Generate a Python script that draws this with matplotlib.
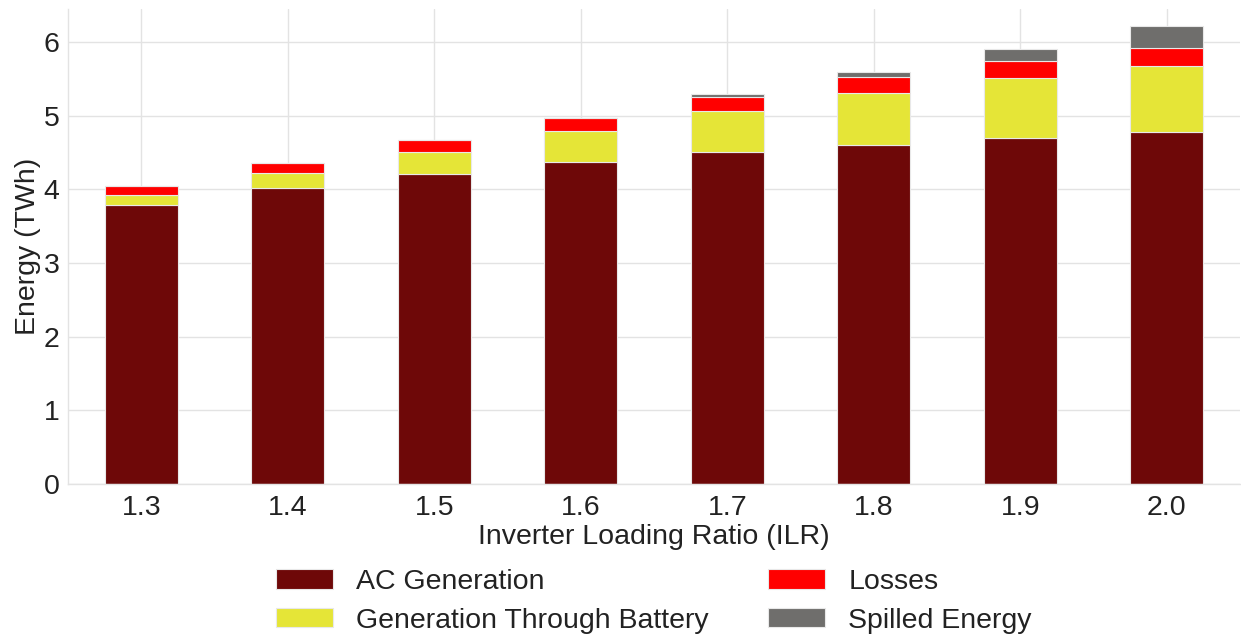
import numpy as np
import matplotlib.pyplot as plt
import seaborn as sns

ilr = ["1.3", "1.4", "1.5", "1.6", "1.7", "1.8", "1.9", "2.0"]
ac_gen = [3.79, 4.02, 4.21, 4.37, 4.51, 4.61, 4.70, 4.78]
battery_gen = [0.14, 0.20, 0.30, 0.43, 0.56, 0.70, 0.81, 0.89]
losses = [0.11, 0.14, 0.16, 0.17, 0.19, 0.22, 0.24, 0.25]
spilled = [0.00, 0.00, 0.00, 0.00, 0.03, 0.07, 0.16, 0.30]

series = [
    ("AC Generation", ac_gen, "#6e0808"),
    ("Generation Through Battery", battery_gen, "#e5e537"),
    ("Losses", losses, "#ff0000"),
    ("Spilled Energy", spilled, "#6f6e6c"),
]

sns.set_style("whitegrid")
plt.rcParams['font.family'] = ['Liberation Sans', 'DejaVu Sans']

fig = plt.figure(figsize=(12.41, 6.37), dpi=100)
ax = fig.add_axes([68/1241, 1 - 484/637, (1240 - 68)/1241, (484 - 9)/637])

x = np.arange(len(ilr))
bottom = np.zeros(len(ilr))
for name, vals, col in series:
    ax.bar(x, vals, width=0.5, bottom=bottom, color=col, label=name,
           edgecolor="#e8e8e8", linewidth=0.8)
    bottom += np.array(vals)

fs = 20.5
ax.set_xlim(-0.5, 7.5)
ax.set_ylim(0, 6.45)
ax.set_xticks(x)
ax.set_xticklabels(ilr)
ax.set_yticks(range(7))
ax.tick_params(axis='x', labelsize=fs, colors="#222222", pad=8, length=0)
ax.tick_params(axis='y', labelsize=fs, colors="#222222", pad=6, length=0)
ax.set_xlabel("Inverter Loading Ratio (ILR)", fontsize=fs, color="#222222", labelpad=2)
ax.set_ylabel("Energy (TWh)", fontsize=fs, color="#222222", labelpad=2)

ax.grid(True, color="#e3e3e3", linewidth=1)
ax.set_axisbelow(True)
for s in ["top", "right"]:
    ax.spines[s].set_visible(False)
for s in ["left", "bottom"]:
    ax.spines[s].set_color("#e3e3e3")
    ax.spines[s].set_linewidth(1)

ax.legend(loc="upper center", bbox_to_anchor=(0.5, -0.125), ncol=2, frameon=False,
          fontsize=fs, handlelength=2.0, handleheight=0.65, handletextpad=0.8,
          columnspacing=2.1, labelspacing=0.45, labelcolor="#222222")

fig.savefig("out.png", dpi=100)
